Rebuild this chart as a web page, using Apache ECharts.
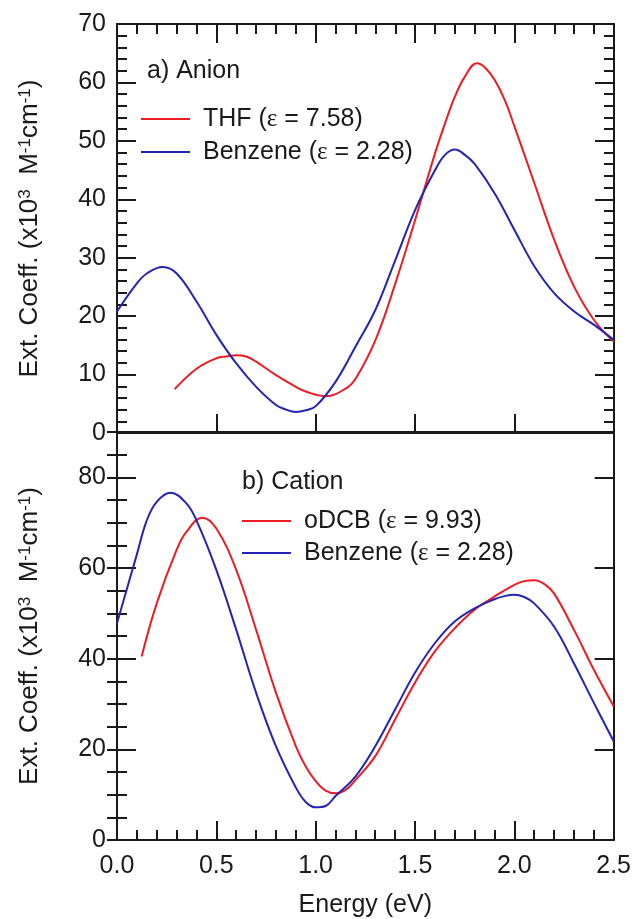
<!DOCTYPE html>
<html>
<head>
<meta charset="utf-8">
<script src="https://cdn.jsdelivr.net/npm/echarts@6/dist/echarts.min.js"></script>
<style>
html,body{margin:0;padding:0;background:#fff;}
#chart{width:634px;height:919px;}
</style>
</head>
<body>
<div id="chart"></div>
<script>
// ---- data ----
var anionTHF_E = [0.29, 0.40, 0.50, 0.55, 0.60, 0.65, 0.70, 0.80, 0.90, 0.95, 1.05, 1.15, 1.20, 1.30, 1.40, 1.50, 1.60, 1.65, 1.70, 1.75, 1.81, 1.85, 1.90, 1.95, 2.00, 2.10, 2.20, 2.30, 2.40, 2.50];
var anionTHF_V = [7.5, 11.0, 12.8, 13.1, 13.3, 13.1, 12.2, 9.9, 7.9, 7.1, 6.3, 7.6, 9.3, 15.9, 25.6, 36.5, 47.9, 53.0, 57.6, 61.0, 63.3, 62.6, 60.4, 57.0, 52.4, 42.7, 33.0, 25.0, 19.3, 15.6];

var anionBz_E = [0.00, 0.10, 0.15, 0.23, 0.30, 0.40, 0.50, 0.60, 0.70, 0.80, 0.85, 0.90, 0.95, 1.00, 1.10, 1.20, 1.30, 1.40, 1.50, 1.60, 1.65, 1.70, 1.75, 1.80, 1.90, 2.00, 2.10, 2.20, 2.30, 2.40, 2.50];
var anionBz_V = [20.8, 25.6, 27.3, 28.4, 27.3, 22.5, 16.8, 11.9, 7.9, 4.8, 4.0, 3.6, 3.9, 4.6, 8.8, 14.8, 21.1, 29.6, 38.2, 45.0, 47.6, 48.5, 47.6, 46.0, 41.0, 34.7, 28.5, 23.9, 20.8, 18.5, 15.9];

var cationDCB_E = [0.124, 0.20, 0.30, 0.35, 0.43, 0.50, 0.60, 0.70, 0.80, 0.90, 0.95, 1.00, 1.05, 1.10, 1.15, 1.20, 1.30, 1.40, 1.50, 1.60, 1.70, 1.80, 1.90, 2.00, 2.05, 2.10, 2.15, 2.20, 2.30, 2.40, 2.50];
var cationDCB_V = [40.5, 52.2, 64.0, 68.0, 71.1, 68.7, 59.6, 46.4, 32.5, 20.7, 16.2, 13.0, 10.9, 10.3, 11.0, 13.2, 18.5, 26.6, 34.7, 41.6, 46.7, 50.8, 53.7, 56.3, 57.1, 57.3, 56.5, 54.4, 46.4, 37.6, 29.5];

var cationBz_E = [0.00, 0.10, 0.15, 0.20, 0.27, 0.35, 0.40, 0.50, 0.60, 0.70, 0.80, 0.90, 0.95, 1.00, 1.05, 1.10, 1.20, 1.30, 1.40, 1.50, 1.60, 1.70, 1.80, 1.90, 1.95, 2.00, 2.05, 2.10, 2.20, 2.30, 2.40, 2.50];
var cationBz_V = [47.8, 63.0, 70.5, 74.6, 76.6, 74.2, 70.5, 59.6, 46.4, 32.5, 20.7, 11.6, 8.4, 7.2, 7.5, 9.7, 14.0, 20.7, 28.8, 36.9, 43.4, 48.2, 51.1, 53.1, 53.8, 54.1, 53.6, 52.2, 47.1, 39.0, 30.3, 21.8];

var xTicks = [0.0, 0.5, 1.0, 1.5, 2.0, 2.5];
var topYTicks = [0, 10, 20, 30, 40, 50, 60, 70];
var botYTicks = [0, 20, 40, 60, 80];

var nameTHF = 'THF (ε = 7.58)';
var nameBzA = 'Benzene (ε = 2.28)';
var nameDCB = 'oDCB (ε = 9.93)';
var nameBzC = 'Benzene (ε = 2.28)';
var labelA = 'a) Anion';
var labelB = 'b) Cation';
var xName = 'Energy (eV)';

// ---- helpers ----
function pairs(xs, ys){ return xs.map(function(x,i){ return [x, ys[i]]; }); }
var RED = '#ec1c24';
var BLUE = '#2424b4';
var INK = '#1a1a1a';
var FONT = 'Liberation Sans, Arial, sans-serif';
var FS = 25;

var yNameRich = {
  b: {fontFamily: FONT, fontSize: 26, color: INK},
  s: {fontFamily: FONT, fontSize: 17, color: INK, verticalAlign: 'top'}
};
var yName = '{b|Ext. Coeff. (x10}{s|3}{b|  M}{s|-1}{b|cm}{s|-1}{b|)}';

function xAx(grid, pos, opts){
  return Object.assign({
    type: 'value', gridIndex: grid, position: pos,
    min: 0, max: 2.5, interval: 0.5,
    axisLine: {show: true, onZero: false, lineStyle: {color: INK, width: 2}},
    axisTick: {show: true, inside: true, length: 19, lineStyle: {color: INK, width: 2}},
    minorTick: {show: false},
    axisLabel: {show: false},
    splitLine: {show: false}
  }, opts || {});
}
function yAx(grid, pos, max, interval, opts){
  return Object.assign({
    type: 'value', gridIndex: grid, position: pos,
    min: 0, max: max, interval: interval,
    axisLine: {show: true, onZero: false, lineStyle: {color: INK, width: 2}},
    axisTick: {show: true, inside: true, length: 19, lineStyle: {color: INK, width: 2}},
    minorTick: {show: false},
    axisLabel: {show: false},
    splitLine: {show: false}
  }, opts || {});
}
var minorStyle = {show: true, length: 10, lineStyle: {color: INK, width: 2}};

function lineSeries(name, xi, yi, xs, ys, color){
  return {type: 'line', name: name, xAxisIndex: xi, yAxisIndex: yi, data: pairs(xs, ys),
    smooth: 0.4, showSymbol: false,
    lineStyle: {color: color, width: 2}, itemStyle: {color: color}};
}

var option = {
  animation: false,
  backgroundColor: '#ffffff',
  grid: [
    {left: 117, right: 20, top: 24, height: 409},
    {left: 117, right: 20, top: 432, height: 409}
  ],
  xAxis: [
    xAx(0, 'bottom'),
    xAx(0, 'top', {minorTick: Object.assign({splitNumber: 5}, minorStyle)}),
    xAx(1, 'bottom', {
      minorTick: Object.assign({splitNumber: 5}, minorStyle),
      axisLabel: {show: true, margin: 14, color: INK, fontFamily: FONT, fontSize: FS,
        formatter: function(v){ return xTicks.indexOf(v) >= 0 ? v.toFixed(1) : ''; }},
      name: xName, nameLocation: 'middle', nameGap: 53,
      nameTextStyle: {color: INK, fontFamily: FONT, fontSize: FS}
    }),
    xAx(1, 'top', {axisTick: {show: false}})
  ],
  yAxis: [
    yAx(0, 'left', 70, 10, {
      minorTick: Object.assign({splitNumber: 5}, minorStyle),
      axisLabel: {show: true, margin: 11, color: INK, fontFamily: FONT, fontSize: FS,
        formatter: function(v){ return topYTicks.indexOf(v) >= 0 ? String(v) : ''; }},
      name: yName, nameLocation: 'middle', nameGap: 74, nameRotate: 90,
      nameTextStyle: {rich: yNameRich}
    }),
    yAx(0, 'right', 70, 10, {minorTick: Object.assign({splitNumber: 5}, minorStyle)}),
    yAx(1, 'left', 90, 20, {
      axisLabel: {show: true, margin: 11, color: INK, fontFamily: FONT, fontSize: FS, showMaxLabel: false,
        formatter: function(v){ return botYTicks.indexOf(v) >= 0 ? String(v) : ''; }},
      name: yName, nameLocation: 'middle', nameGap: 74, nameRotate: 90,
      nameTextStyle: {rich: yNameRich}
    }),
    yAx(1, 'right', 90, 20),
    yAx(1, 'left', 90, 5, {axisLine: {show: false}, axisTick: {show: true, inside: true, length: 10, lineStyle: {color: INK, width: 2}}}),
    yAx(1, 'right', 90, 5, {axisLine: {show: false}, axisTick: {show: true, inside: true, length: 10, lineStyle: {color: INK, width: 2}}})
  ],
  legend: [
    {
      data: [nameTHF, nameBzA], orient: 'vertical', left: 136, top: 98,
      itemWidth: 49, itemHeight: 2, itemGap: 1, icon: 'rect',
      textStyle: {color: INK, fontFamily: FONT, fontSize: FS, lineHeight: 32, padding: [0, 0, 0, 8],
        rich: {e: {fontFamily: 'Liberation Serif, serif', fontSize: FS, color: INK}}},
      formatter: function(n){ return n.replace('ε', '{e|ε}'); },
      selectedMode: false
    },
    {
      data: [nameDCB, nameBzC], orient: 'vertical', left: 237, top: 500,
      itemWidth: 49, itemHeight: 2, itemGap: 0, icon: 'rect',
      textStyle: {color: INK, fontFamily: FONT, fontSize: FS, lineHeight: 32, padding: [0, 0, 0, 8],
        rich: {e: {fontFamily: 'Liberation Serif, serif', fontSize: FS, color: INK}}},
      formatter: function(n){ return n.replace('ε', '{e|ε}'); },
      selectedMode: false
    }
  ],
  graphic: [
    {type: 'text', left: 147, top: 59, style: {text: labelA, fill: INK, font: FS + 'px ' + FONT}},
    {type: 'text', left: 242, top: 470, style: {text: labelB, fill: INK, font: FS + 'px ' + FONT}}
  ],
  series: [
    lineSeries(nameTHF, 0, 0, anionTHF_E, anionTHF_V, RED),
    lineSeries(nameBzA, 0, 0, anionBz_E, anionBz_V, BLUE),
    lineSeries(nameDCB, 2, 2, cationDCB_E, cationDCB_V, RED),
    lineSeries(nameBzC, 2, 2, cationBz_E, cationBz_V, BLUE)
  ]
};
var chart = echarts.init(document.getElementById('chart'), null, {renderer: 'canvas'});
chart.setOption(option);
</script>
</body>
</html>
